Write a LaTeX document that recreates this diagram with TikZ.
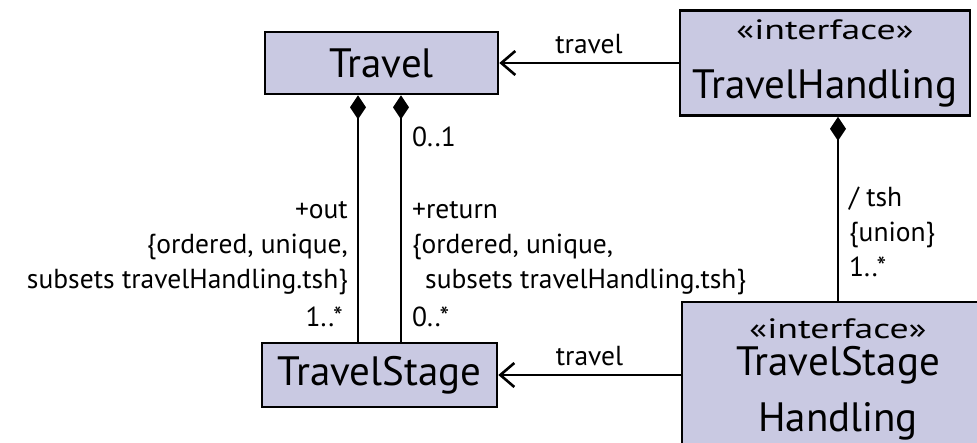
\documentclass[tikz,border=0pt]{standalone}
\usepackage{graphicx}
\usepackage{fontspec}
\setmainfont{PT Sans}
\usetikzlibrary{arrows.meta,calc}
\definecolor{classfill}{RGB}{201,201,226}
\newcommand{\stereo}[1]{{\fontsize{28}{30}\selectfont\scalebox{1.35}[1]{«#1»}}}

\begin{document}
\begin{tikzpicture}[x=1pt, y=-1pt,
  cls/.style={draw, line width=2.6pt, fill=classfill, inner sep=0pt, align=center,
    font=\fontsize{41}{59}\selectfont},
  lbl/.style={inner sep=0pt, font=\fontsize{27.5}{35}\selectfont},
  comp/.style={line width=2.6pt, arrows={Diamond[length=24pt,width=16pt]-}},
  nav/.style={line width=2.6pt, arrows={-Straight Barb[length=14pt,width=24pt]}}]
  \useasboundingbox (0,0) rectangle (977,443);
  \clip (0,0) rectangle (977,443);
  % classes
  \node[cls, minimum width=233pt, minimum height=62pt] at (381.5,63) (travel) {Travel};
  \node[cls, minimum width=290pt, minimum height=105pt] at (825,63) (th)
    {\stereo{interface}\\TravelHandling};
  \node[cls, font=\fontsize{41}{56}\selectfont, minimum width=235pt, minimum height=64pt]
    at (379.5,375) (stage) {TravelStage};
  \node[cls, font=\fontsize{41}{56}\selectfont, minimum width=312pt, minimum height=154pt]
    at (838,379) (tsh) {\stereo{interface}\\[-19pt]TravelStage\\Handling};
  % compositions
  \draw[comp] ([xshift=-23.5pt]travel.south) -- ([xshift=-21.5pt]stage.north);
  \draw[comp] ([xshift=19.5pt]travel.south) -- ([xshift=21.5pt]stage.north);
  \draw[comp] ([xshift=13pt]th.south) -- (tsh.north);
  % navigable ends
  \draw[nav] (th.west) -- node[lbl, above=8pt] (travlbl) {travel} (travel.east);
  \draw[nav] (tsh.west |- stage.east) -- node[lbl, above=8pt] (stravlbl) {travel} (stage.east);
  % role names
  \node[lbl, anchor=east, align=right] at (348,248) (outlbl)
    {+out\\\{ordered, unique,\\subsets travelHandling.tsh\}};
  \node[lbl, anchor=east] at (343,317) (outmult) {1..*};
  \node[lbl, anchor=west, align=left] at (412,248) (retlbl)
    {+return\\\{ordered, unique,\\\hspace*{13pt}subsets travelHandling.tsh\}};
  \node[lbl, anchor=west] at (412,317) (retmult) {0..*};
  \node[lbl, anchor=west] at (412,137) (travmult) {0..1};
  \node[lbl, anchor=west, align=left] at (849,232) (tshlbl) {/ tsh\\\{union\}\\1..*};
\end{tikzpicture}
\end{document}
